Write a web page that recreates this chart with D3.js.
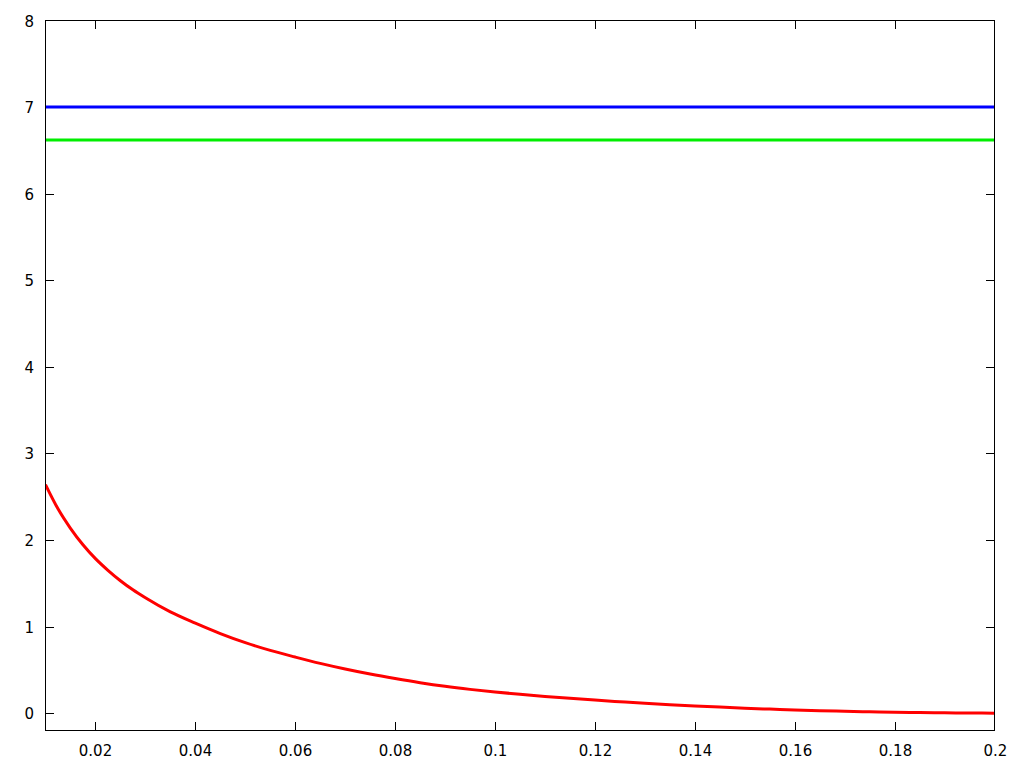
<!DOCTYPE html>
<html>
<head>
<meta charset="utf-8">
<script src="https://cdn.jsdelivr.net/npm/d3@7"></script>
<style>
html,body{margin:0;padding:0;background:#fff;}
svg{display:block;}
text{font-family:"DejaVu Sans",sans-serif;font-size:15px;fill:#000;}
</style>
</head>
<body>
<svg id="chart" width="1024" height="768"></svg>
<script>
// Data
const xTicks = [0.02, 0.04, 0.06, 0.08, 0.1, 0.12, 0.14, 0.16, 0.18, 0.2];
const yTicks = [0, 1, 2, 3, 4, 5, 6, 7, 8];
const redX = [0.01, 0.0125, 0.015, 0.0175, 0.02, 0.0225, 0.025, 0.0275, 0.03, 0.035, 0.04, 0.045, 0.05, 0.055, 0.06, 0.065, 0.07, 0.075, 0.08, 0.085, 0.09, 0.095, 0.1, 0.105, 0.11, 0.115, 0.12, 0.125, 0.13, 0.135, 0.14, 0.145, 0.15, 0.155, 0.16, 0.165, 0.17, 0.175, 0.18, 0.185, 0.19, 0.195, 0.2];
const redY = [2.64, 2.36, 2.135, 1.945, 1.785, 1.65, 1.53, 1.425, 1.333, 1.17, 1.04, 0.92, 0.815, 0.725, 0.648, 0.575, 0.51, 0.452, 0.40, 0.352, 0.31, 0.275, 0.245, 0.218, 0.194, 0.172, 0.151, 0.132, 0.114, 0.098, 0.083, 0.070, 0.058, 0.047, 0.037, 0.029, 0.022, 0.016, 0.011, 0.007, 0.004, 0.002, 0.0];
const blueValue = 7.0;
const greenValue = 6.62;
const xDomain = [0.01, 0.2];
const yDomain = [-0.2, 8];

(function () {
const svg = d3.select("#chart");
const pL = 45.5, pR = 994.5, pT = 20.5, pB = 730.5;

const x = d3.scaleLinear().domain(xDomain).range([pL, pR]);
const y = d3.scaleLinear().domain(yDomain).range([pB, pT]);

const tickLen = 8.5;
const g = svg.append("g");

// ticks (inward, mirrored)
yTicks.forEach(v => {
  const yy = Math.round(y(v)) + 0.5;
  if (v > yDomain[0] && v < yDomain[1]) {
    g.append("line").attr("x1", pL).attr("x2", pL + tickLen).attr("y1", yy).attr("y2", yy).attr("stroke", "#000").attr("stroke-width", 1);
    g.append("line").attr("x1", pR).attr("x2", pR - tickLen).attr("y1", yy).attr("y2", yy).attr("stroke", "#000").attr("stroke-width", 1);
  }
  g.append("text").attr("x", 34).attr("y", yy).attr("dy", "0.36em").attr("text-anchor", "end").text(d3.format("d")(v));
});
const xfmt = v => String(+v.toFixed(2));
xTicks.forEach(v => {
  const xx = Math.round(x(v)) + 0.5;
  if (v < xDomain[1]) {
    g.append("line").attr("x1", xx).attr("x2", xx).attr("y1", pB).attr("y2", pB - tickLen).attr("stroke", "#000").attr("stroke-width", 1);
    g.append("line").attr("x1", xx).attr("x2", xx).attr("y1", pT).attr("y2", pT + tickLen).attr("stroke", "#000").attr("stroke-width", 1);
  }
  g.append("text").attr("x", xx).attr("y", 756).attr("text-anchor", "middle").text(xfmt(v));
});

// clip
svg.append("clipPath").attr("id", "clip").append("rect")
  .attr("x", pL).attr("y", pT).attr("width", pR - pL).attr("height", pB - pT);

const plot = svg.append("g").attr("clip-path", "url(#clip)");
const line = d3.line().x(d => x(d[0])).y(d => y(d[1])).curve(d3.curveMonotoneX);

plot.append("path").datum(xDomain.map(v => [v, blueValue])).attr("d", line)
  .attr("fill", "none").attr("stroke", "#0000ff").attr("stroke-width", 3);
plot.append("path").datum(xDomain.map(v => [v, greenValue])).attr("d", line)
  .attr("fill", "none").attr("stroke", "#00ee00").attr("stroke-width", 3);
plot.append("path").datum(redX.map((v, i) => [v, redY[i]])).attr("d", line)
  .attr("fill", "none").attr("stroke", "#ff0000").attr("stroke-width", 3);

// border
svg.append("rect").attr("x", pL).attr("y", pT).attr("width", pR - pL).attr("height", pB - pT)
  .attr("fill", "none").attr("stroke", "#000").attr("stroke-width", 1);
})();
</script>
</body>
</html>
